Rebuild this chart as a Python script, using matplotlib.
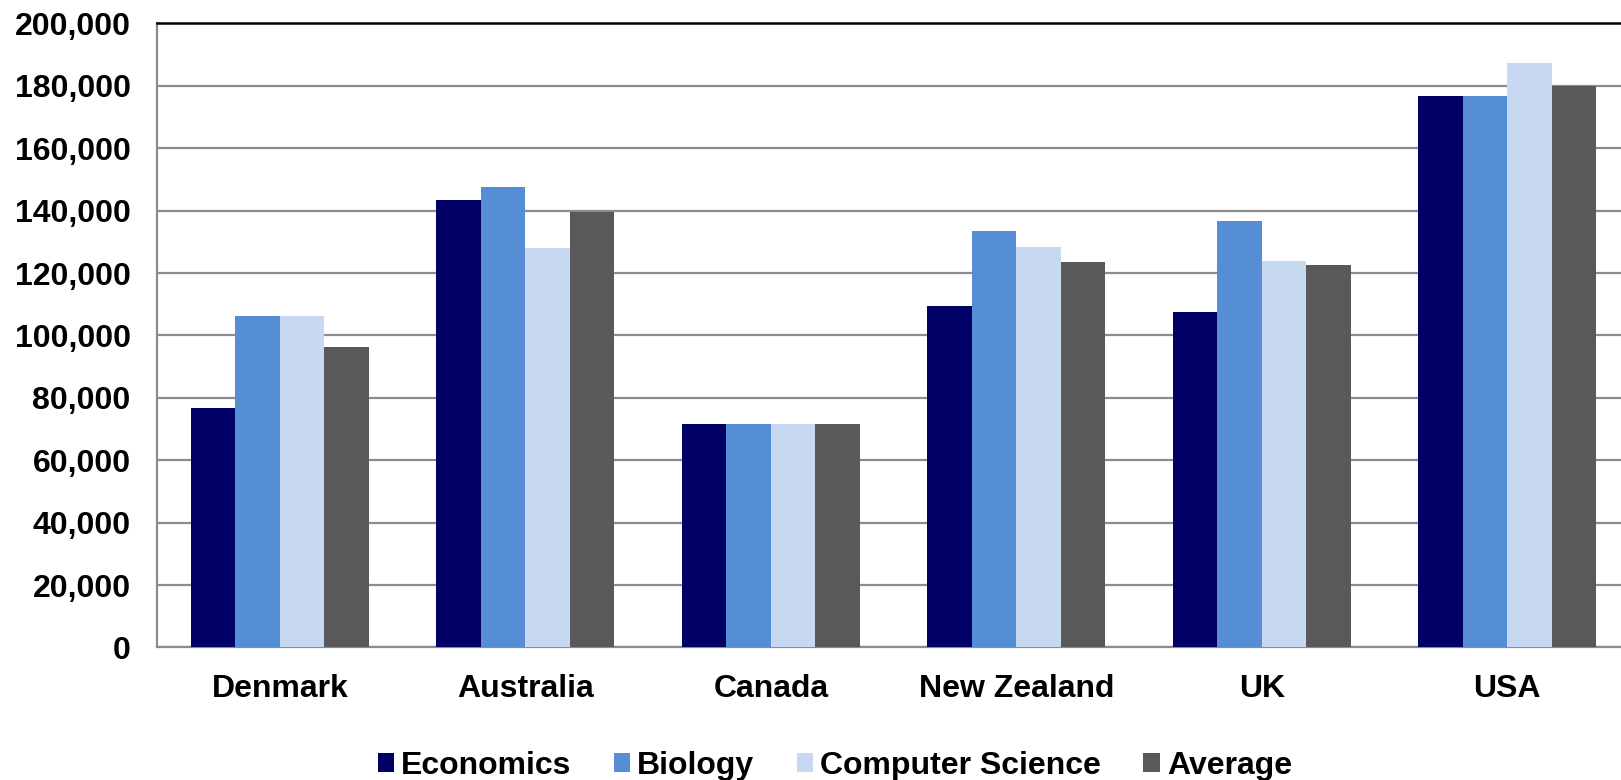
import numpy as np
import matplotlib
matplotlib.use('Agg')
import matplotlib.pyplot as plt
from matplotlib.ticker import FuncFormatter

countries = ['Denmark', 'Australia', 'Canada', 'New Zealand', 'UK', 'USA']
series_names = ['Economics', 'Biology', 'Computer Science', 'Average']
economics = [76700, 143500, 71700, 109300, 107600, 176600]
biology = [106200, 147600, 71700, 133400, 136600, 176600]
computer_science = [106200, 127900, 71700, 128500, 124000, 187300]
average = [96300, 139700, 71700, 123700, 122600, 180100]
colors = ['#000066', '#558ED5', '#C6D9F1', '#595959']

plt.rcParams['font.family'] = ['Liberation Sans', 'DejaVu Sans']
plt.rcParams['font.weight'] = 'bold'

fig = plt.figure(figsize=(16.21, 7.80), dpi=100)
# plot area runs a little past the right edge of the figure
ax = fig.add_axes([0.0969, 0.1699, 0.9087, 0.8])

x = np.arange(len(countries))
w = 0.181
for i, (vals, name) in enumerate(zip([economics, biology, computer_science, average], series_names)):
    ax.bar(x + (i - 1.5) * w, vals, width=w, color=colors[i], label=name, zorder=3)

ax.set_xlim(-0.5, len(countries) - 0.5)
ax.set_ylim(0, 200000)
ax.set_yticks(np.arange(0, 200001, 20000))
ax.yaxis.set_major_formatter(FuncFormatter(lambda v, p: f'{int(v):,}'))
ax.set_xticks(x)
ax.set_xticklabels(countries)
ax.tick_params(axis='y', length=0, pad=19, labelsize=23)
ax.tick_params(axis='x', length=0, pad=19, labelsize=23)
for lab in ax.get_xticklabels() + ax.get_yticklabels():
    lab.set_fontweight('bold')

ax.grid(axis='y', color='#8c8c8c', linewidth=1.6, zorder=0)
ax.set_axisbelow(True)
ax.spines['top'].set_color('black')
ax.spines['top'].set_linewidth(1.8)
ax.spines['left'].set_color('#8c8c8c')
ax.spines['left'].set_linewidth(1.6)
ax.spines['bottom'].set_color('#8c8c8c')
ax.spines['bottom'].set_linewidth(1.6)
ax.spines['right'].set_visible(False)

leg = fig.legend(loc='center', bbox_to_anchor=(0.515, 0.018), ncol=4, frameon=False,
                 fontsize=23, handlelength=0.52, handleheight=0.52, handletextpad=0.22,
                 columnspacing=1.32, borderaxespad=0)
for t in leg.get_texts():
    t.set_fontweight('bold')

plt.savefig('out.png', dpi=100)
plt.close()
